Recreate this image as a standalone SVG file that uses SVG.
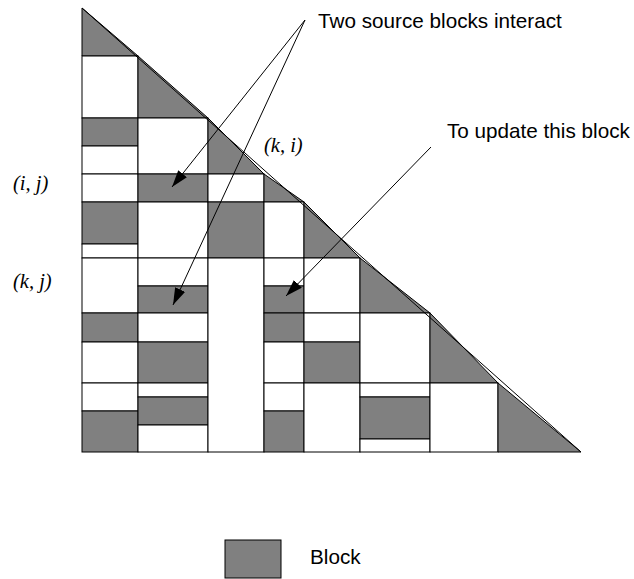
<svg xmlns="http://www.w3.org/2000/svg" width="634" height="579" viewBox="0 0 634 579">
  <style>
    .g { fill: #808080; stroke: #000; stroke-width: 1; }
    .w { fill: #fff; stroke: #000; stroke-width: 1; }
    .ln { fill: none; stroke: #000; stroke-width: 1; }
    .lab { font-family: "Liberation Serif", "Times New Roman", serif; font-style: italic; font-size: 20.5px; fill: #000; }
    .txt { font-family: "Liberation Sans", Arial, sans-serif; font-size: 20.7px; fill: #000; }
  </style>
  <defs>
    <marker id="head" viewBox="0 0 17 11" refX="17" refY="5.5" markerWidth="17" markerHeight="11" markerUnits="userSpaceOnUse" orient="auto">
      <path d="M0,0 L17,5.5 L0,11 z" fill="#000"/>
    </marker>
  </defs>

  <rect width="634" height="579" fill="#fff"/>

  <!-- column 1 -->
  <g id="col1">
    <polygon class="g" points="82,8 138,56 82,56"/>
    <rect class="w" x="82" y="56" width="56" height="62"/>
    <rect class="g" x="82" y="118" width="56" height="28"/>
    <rect class="w" x="82" y="146" width="56" height="28"/>
    <rect class="w" x="82" y="174" width="56" height="28"/>
    <rect class="g" x="82" y="202" width="56" height="42"/>
    <rect class="w" x="82" y="244" width="56" height="14"/>
    <rect class="w" x="82" y="258" width="56" height="55"/>
    <rect class="g" x="82" y="313" width="56" height="29"/>
    <rect class="w" x="82" y="342" width="56" height="41"/>
    <rect class="w" x="82" y="383" width="56" height="28"/>
    <rect class="g" x="82" y="411" width="56" height="41"/>
  </g>

  <!-- column 2 -->
  <g id="col2">
    <polygon class="g" points="138,56 208,118 138,118"/>
    <rect class="w" x="138" y="118" width="70" height="56"/>
    <rect class="g" x="138" y="174" width="70" height="28"/>
    <rect class="w" x="138" y="202" width="70" height="56"/>
    <rect class="w" x="138" y="258" width="70" height="28"/>
    <rect class="g" x="138" y="286" width="70" height="27"/>
    <rect class="w" x="138" y="313" width="70" height="29"/>
    <rect class="g" x="138" y="342" width="70" height="41"/>
    <rect class="w" x="138" y="383" width="70" height="14"/>
    <rect class="g" x="138" y="397" width="70" height="28"/>
    <rect class="w" x="138" y="425" width="70" height="27"/>
  </g>

  <!-- column 3 -->
  <g id="col3">
    <polygon class="g" points="208,118 264,174 208,174"/>
    <rect class="w" x="208" y="174" width="56" height="28"/>
    <rect class="g" x="208" y="202" width="56" height="56"/>
    <rect class="w" x="208" y="258" width="56" height="194"/>
  </g>

  <!-- column 4 -->
  <g id="col4">
    <polygon class="g" points="264,174 304,202 264,202"/>
    <rect class="w" x="264" y="202" width="40" height="56"/>
    <rect class="w" x="264" y="258" width="40" height="28"/>
    <rect class="g" x="264" y="286" width="40" height="27"/>
    <rect class="g" x="264" y="313" width="40" height="29"/>
    <rect class="w" x="264" y="342" width="40" height="41"/>
    <rect class="w" x="264" y="383" width="40" height="28"/>
    <rect class="g" x="264" y="411" width="40" height="41"/>
  </g>

  <!-- column 5 -->
  <g id="col5">
    <polygon class="g" points="304,202 360,258 304,258"/>
    <rect class="w" x="304" y="258" width="56" height="55"/>
    <rect class="w" x="304" y="313" width="56" height="29"/>
    <rect class="g" x="304" y="342" width="56" height="41"/>
    <rect class="w" x="304" y="383" width="56" height="69"/>
  </g>

  <!-- column 6 -->
  <g id="col6">
    <polygon class="g" points="360,258 430,313 360,313"/>
    <rect class="w" x="360" y="313" width="70" height="70"/>
    <rect class="w" x="360" y="383" width="70" height="14"/>
    <rect class="g" x="360" y="397" width="70" height="42"/>
    <rect class="w" x="360" y="439" width="70" height="13"/>
  </g>

  <!-- column 7 -->
  <g id="col7">
    <polygon class="g" points="430,313 498,383 430,383"/>
    <rect class="w" x="430" y="383" width="68" height="69"/>
  </g>

  <!-- column 8 -->
  <g id="col8">
    <polygon class="g" points="498,383 581,452 498,452"/>
  </g>

  <!-- outer edge of the triangle -->
  <line class="ln" x1="82" y1="8" x2="581" y2="452"/>

  <!-- labels -->
  <g id="labels">
    <text class="lab" x="13" y="190">(i, j)</text>
    <text class="lab" x="13" y="288">(k, j)</text>
    <text class="lab" x="264" y="152">(k, i)</text>
    <text class="txt" x="318" y="28">Two source blocks interact</text>
    <text class="txt" x="447" y="138">To update this block</text>
  </g>

  <!-- connectors -->
  <g id="connectors">
    <line class="ln" x1="305" y1="20" x2="172" y2="187" marker-end="url(#head)"/>
    <line class="ln" x1="305" y1="20" x2="173" y2="305" marker-end="url(#head)"/>
    <line class="ln" x1="431" y1="147" x2="286" y2="296" marker-end="url(#head)"/>
  </g>

  <!-- legend -->
  <g id="legend">
    <rect class="g" x="225" y="540" width="56" height="38"/>
    <text class="txt" x="310" y="564">Block</text>
  </g>
</svg>
